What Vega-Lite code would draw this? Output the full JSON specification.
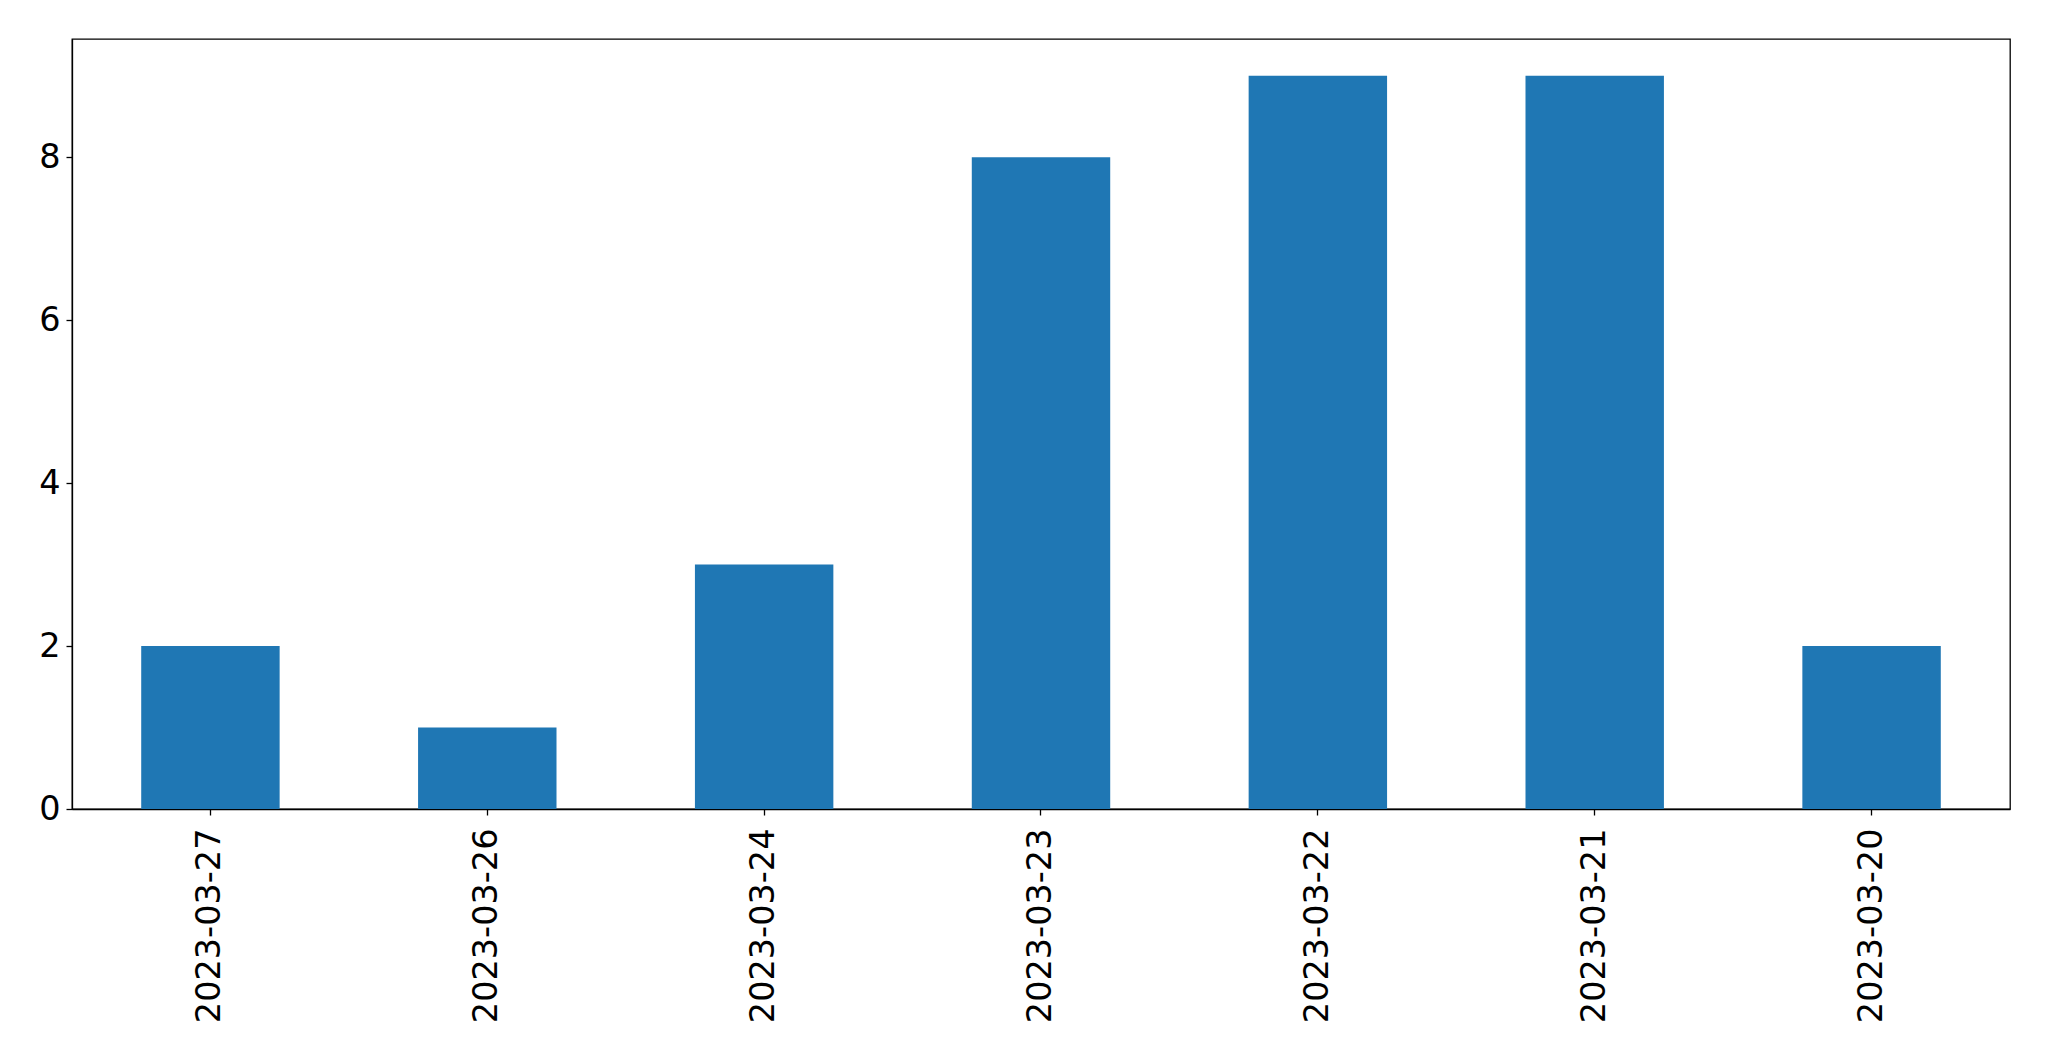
{
  "$schema": "https://vega.github.io/schema/vega-lite/v6.json",
  "width": 1938,
  "height": 770,
  "autosize": {"type": "none"},
  "padding": {"left": 72, "top": 39, "right": 39, "bottom": 252},
  "background": "white",
  "data": {"values": [
    {"date": "2023-03-27", "count": 2},
    {"date": "2023-03-26", "count": 1},
    {"date": "2023-03-24", "count": 3},
    {"date": "2023-03-23", "count": 8},
    {"date": "2023-03-22", "count": 9},
    {"date": "2023-03-21", "count": 9},
    {"date": "2023-03-20", "count": 2}
  ]},
  "mark": {"type": "bar", "color": "#1f77b4"},
  "encoding": {
    "x": {
      "field": "date", "type": "nominal", "sort": null,
      "scale": {"paddingInner": 0.5, "paddingOuter": 0.25},
      "axis": {"title": null, "labelAngle": 270, "labelLimit": 0, "labelFont": "DejaVu Sans", "labelFontSize": 33.5, "labelColor": "black",
               "tickColor": "black", "tickSize": 6, "tickWidth": 1.3, "domainColor": "black", "domainWidth": 1.3, "labelPadding": 13}
    },
    "y": {
      "field": "count", "type": "quantitative",
      "scale": {"domain": [0, 9.45], "nice": false, "zero": true},
      "axis": {"title": null, "values": [0, 2, 4, 6, 8], "grid": false, "labelFont": "DejaVu Sans", "labelFontSize": 33.5, "labelColor": "black",
               "tickColor": "black", "tickSize": 6, "tickWidth": 1.3, "domainColor": "black", "domainWidth": 1.3, "labelPadding": 6}
    }
  },
  "config": {"font": "DejaVu Sans", "view": {"stroke": "black", "strokeWidth": 1.3}}
}
